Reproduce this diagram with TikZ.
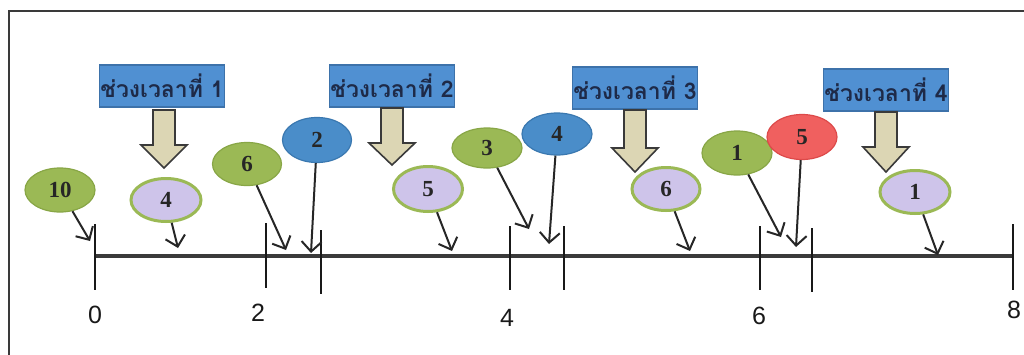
\documentclass[tikz,border=0pt]{standalone}
\usepackage{fontspec}
\setmainfont{Liberation Sans}
\newfontfamily\thaifont[Script=Thai]{Loma}
\newfontfamily\numfont{Liberation Serif}
\usetikzlibrary{arrows.meta,shapes.geometric}
\definecolor{boxblue}{HTML}{5090D2}
\definecolor{boxedge}{HTML}{3D72AA}
\definecolor{navytext}{HTML}{1E2A48}
\definecolor{olivefill}{HTML}{9BB955}
\definecolor{oliveedge}{HTML}{88A646}
\definecolor{bluefill}{HTML}{4A8DC9}
\definecolor{blueedge}{HTML}{3A78B0}
\definecolor{redfill}{HTML}{F0605F}
\definecolor{rededge}{HTML}{DD4A4A}
\definecolor{lavfill}{HTML}{CEC4EA}
\definecolor{beigefill}{HTML}{DCD6B4}
\definecolor{inkgray}{HTML}{3A3A3A}
\newcommand\BlockArrow[4]{%
  \draw[bigarrow] (#1-11,#2) -- (#1+11,#2) -- (#1+11,#3) -- (#1+23,#3)
    -- (#1,#4) -- (#1-23,#3) -- (#1-11,#3) -- cycle;}
\begin{document}
\begin{tikzpicture}[x=0.5pt,y=-0.5pt,
  period/.style={draw=boxedge, fill=boxblue, line width=0.8pt,
    minimum width=62.5pt, minimum height=21pt, inner sep=0pt,
    font=\thaifont\bfseries\fontsize{11.5}{13}\selectfont, text=navytext},
  evt/.style={ellipse, minimum width=35pt, minimum height=22pt, inner sep=0pt,
    font=\numfont\bfseries\fontsize{11.5}{13}\selectfont, text=black!85},
  greenev/.style={evt, fill=olivefill, draw=oliveedge, line width=0.6pt},
  blueev/.style={evt, fill=bluefill, draw=blueedge, line width=0.6pt},
  redev/.style={evt, fill=redfill, draw=rededge, line width=0.6pt},
  lavev/.style={evt, fill=lavfill, draw=olivefill, line width=1.5pt},
  ptr/.style={-{Straight Barb[length=5pt,width=10pt,line width=1pt]}, line width=1pt, draw=black!85},
  bigarrow/.style={draw=inkgray, fill=beigefill, line width=0.8pt, line join=miter},
  axisline/.style={line width=1.8pt, draw=inkgray},
  tickline/.style={line width=0.8pt, draw=black!90},
  axislabel/.style={font=\fontsize{12.5}{14}\selectfont, text=black!90, inner sep=0pt}
]
\useasboundingbox (0,0) rectangle (1024,354);
\fill[white] (0,0) rectangle (1024,354);
% frame (left and top edges visible)
\draw[line width=1pt, draw=inkgray] (9,360) -- (9,11) -- (1030,11);

% period boxes
\node[period] (p1) at (162,86) {ช่วงเวลาที่ 1};
\node[period] (p2) at (392,86) {ช่วงเวลาที่ 2};
\node[period] (p3) at (635,88) {ช่วงเวลาที่ 3};
\node[period] (p4) at (886,90) {ช่วงเวลาที่ 4};

% block arrows
\BlockArrow{164}{110}{145}{168}
\BlockArrow{392}{108}{143}{165}
\BlockArrow{635}{110}{148}{172}
\BlockArrow{886}{112}{147}{172}

% axis
\coordinate (a0) at (95,256);
\coordinate (a8) at (1013,256);
\draw[axisline] (a0) -- (a8);
\foreach \tx/\ta/\tb in {95/224/290, 266/223/288, 321/230/294, 510/226/290, 564/226/290, 760/226/290, 812/228/292, 1013/224/290}
  \draw[tickline] (\tx,\ta) -- (\tx,\tb);
\node[axislabel] (l0) at (95,315) {0};
\node[axislabel] (l2) at (258,313) {2};
\node[axislabel] (l4) at (507,318) {4};
\node[axislabel] (l6) at (759,316) {6};
\node[axislabel] (l8) at (1014,310) {8};

% event ellipses
\node[greenev] (e10) at (60,190) {10};
\node[lavev, minimum width=35pt, minimum height=21.5pt] (w4) at (166,200) {4};
\node[greenev, minimum width=34.5pt, minimum height=21.5pt] (g6) at (247,164) {6};
\node[blueev, minimum width=34.5pt, minimum height=22.5pt] (b2) at (317,140) {2};
\node[lavev, minimum width=34.5pt, minimum height=22.5pt] (w5) at (428,189) {5};
\node[greenev, minimum width=35pt, minimum height=20pt] (g3) at (487,148) {3};
\node[blueev, minimum width=35pt, minimum height=21pt] (b4) at (557,134) {4};
\node[lavev, minimum width=34pt, minimum height=21.5pt] (w6) at (666,189) {6};
\node[greenev, minimum width=35pt, minimum height=22pt] (g1) at (737,153) {1};
\node[redev, minimum width=35pt, minimum height=22.5pt] (r5) at (802,137) {5};
\node[lavev, minimum width=35pt, minimum height=21.5pt] (w1) at (915,192) {1};

% arrow targets
\coordinate (t10) at (90,241);
\coordinate (tw4) at (178,248);
\coordinate (tg6) at (286,250);
\coordinate (tb2) at (311,253);
\coordinate (tw5) at (452,251);
\coordinate (tg3) at (529,229);
\coordinate (tb4) at (549,244);
\coordinate (tw6) at (690,251);
\coordinate (tg1) at (781,237);
\coordinate (tr5) at (796,247);
\coordinate (tw1) at (938,255);

\draw[ptr] (e10) -- (t10);
\draw[ptr] (w4) -- (tw4);
\draw[ptr] (g6) -- (tg6);
\draw[ptr] (b2) -- (tb2);
\draw[ptr] (w5) -- (tw5);
\draw[ptr] (g3) -- (tg3);
\draw[ptr] (b4) -- (tb4);
\draw[ptr] (w6) -- (tw6);
\draw[ptr] (g1) -- (tg1);
\draw[ptr] (r5) -- (tr5);
\draw[ptr] (w1) -- (tw1);
\end{tikzpicture}
\end{document}
